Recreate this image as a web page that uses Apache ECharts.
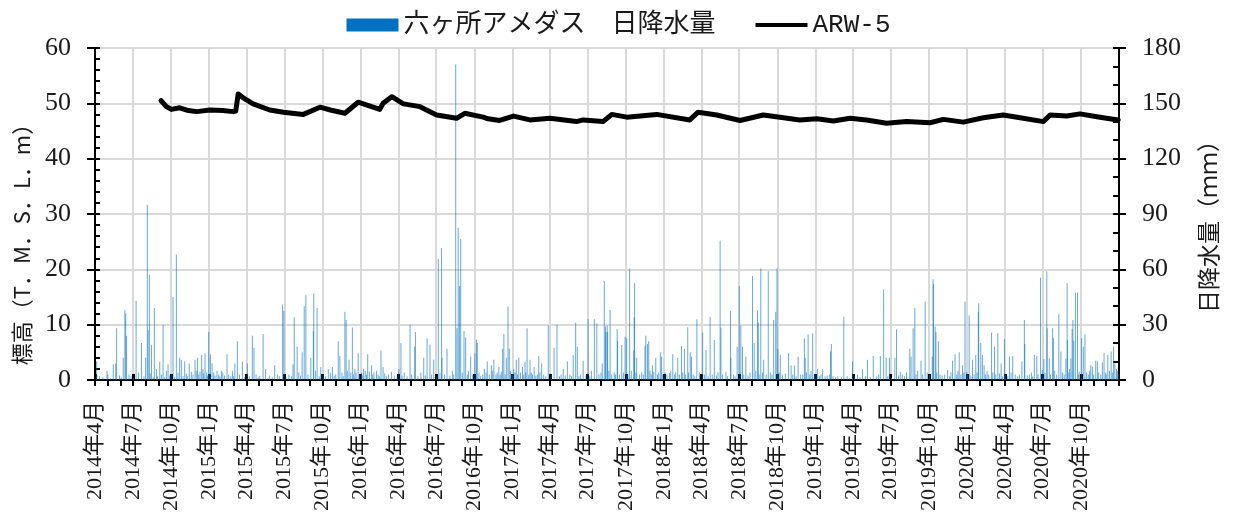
<!DOCTYPE html>
<html>
<head>
<meta charset="utf-8">
<script src="https://cdn.jsdelivr.net/npm/echarts@6/dist/echarts.min.js"></script>
<style>
  html, body { margin: 0; padding: 0; background: #fff; }
  #chart { width: 1237px; height: 515px; }
</style>
</head>
<body>
<div id="chart"></div>
<script>
// 六ヶ所アメダス 日降水量 (mm) — [月-日, 降水量]
const rain2014 = [
  ['04-05',10],['04-12',2],['04-20',1.5],['04-30',5],['05-02',3],['05-08',1],['05-15',8.5],['05-21',9],['05-23',28],['05-30',2.5],
  ['06-03',1.5],['06-08',12],['06-12',38],['06-14',36],['06-16',24],['06-22',3],['06-27',2],['07-03',1],['07-09',43],['07-15',4],
  ['07-22',20],['07-28',2],['08-01',12],['08-05',95],['08-07',27],['08-10',57],['08-12',3.5],['08-15',19],['08-19',1.5],['08-22',39],
  ['08-27',6],['08-30',2],['09-04',10],['09-08',3],['09-12',30],['09-16',1.5],['09-20',5],['09-24',8.5],['09-28',2.5],['10-02',3],
  ['10-06',45],['10-10',1.5],['10-14',68],['10-18',4],['10-22',12],['10-26',11],['10-30',2],['11-03',10],['11-07',3.5],['11-10',2],
  ['11-14',9],['11-19',4.5],['11-23',3],['11-28',11],['12-01',5],['12-04',12],['12-07',3],['12-10',4.5],['12-14',13.5],['12-17',6],
  ['12-19',3.5],['12-22',14.5],['12-26',4],['12-28',2.5],['12-31',26]
];
const rain2015 = [
  ['01-01',3],['01-04',14],['01-08',9],['01-12',4],['01-15',2.5],['01-20',5],['01-24',3],['01-27',2],['01-31',5],['02-03',4],
  ['02-07',2.5],['02-13',14],['02-17',3],['02-22',2],['02-26',5],['03-01',2],['03-04',9],['03-10',21],['03-15',3],['03-22',10],
  ['03-27',1.5],['04-03',9],['04-08',2],['04-15',24],['04-19',17.5],['04-24',3],['04-29',1.5],['05-03',2],['05-11',25],['05-17',6],
  ['05-22',1],['05-27',2.5],['06-02',1.5],['06-08',8],['06-15',3],['06-20',2],['06-27',41],['06-30',37.6],['07-05',1.5],['07-12',3],
  ['07-18',2],['07-22',8.5],['07-25',34],['08-01',18],['08-05',4],['08-09',2.5],['08-13',15],['08-18',40],['08-22',46],['08-27',3],
  ['09-03',12],['09-09',26.5],['09-10',47],['09-14',5],['09-18',39],['09-23',2],['09-27',7],['10-03',3],['10-08',2],['10-15',6],
  ['10-20',4],['10-25',7],['10-29',2.5],['11-02',3],['11-08',21],['11-12',13],['11-17',4],['11-20',2],['11-24',37],['11-27',32.5],
  ['11-30',5],['12-04',11],['12-08',4],['12-12',28.5],['12-15',3],['12-18',6],['12-21',4],['12-26',14.5],['12-29',3]
];
const rain2016 = [
  ['01-03',4],['01-05',2.5],['01-08',6],['01-12',5],['01-15',3],['01-18',14],['01-22',4.5],['01-27',8],['01-30',3],['02-02',4],
  ['02-08',5],['02-12',3],['02-15',2],['02-19',16],['02-24',7],['02-28',3.5],['03-03',2],['03-08',3],['03-15',4.5],['03-22',2.5],
  ['03-29',1.5],['04-02',6],['04-07',20],['04-10',2.5],['04-15',4],['04-22',2],['04-29',30],['05-03',3],['05-10',18],['05-12',26],
  ['05-18',2],['05-25',4],['06-01',12],['06-05',2.5],['06-09',22.5],['06-16',19.3],['06-20',3],['06-25',11],['07-02',2],['07-06',65.6],
  ['07-10',4],['07-14',71.4],['07-15',12],['07-21',3],['07-27',17],['08-03',2.5],['08-09',5],['08-12',3],['08-17',171],['08-20',28],
  ['08-23',82.6],['08-26',51],['08-29',76.4],['09-02',4],['09-06',26.5],['09-10',23],['09-14',3],['09-17',5],['09-22',12.7],['09-27',3],
  ['10-02',14.5],['10-06',22],['10-08',20],['10-12',4],['10-16',2],['10-21',3],['10-25',6],['10-29',4],['11-01',10],['11-06',3],
  ['11-11',8],['11-14',5],['11-17',11],['11-22',3],['11-25',4],['11-29',7],['12-02',3],['12-05',4.5],['12-08',17],['12-11',25],
  ['12-14',3],['12-17',12],['12-21',40],['12-24',17],['12-27',5],['12-30',3]
];
const rain2017 = [
  ['01-01',3],['01-04',6],['01-07',4],['01-10',11],['01-13',3],['01-16',12],['01-20',4],['01-25',7],['01-28',3],['01-31',10],
  ['02-02',4],['02-05',28],['02-09',3],['02-12',11],['02-15',4],['02-18',3],['02-22',7],['02-26',2.5],['03-02',3],['03-05',13],
  ['03-08',4],['03-12',9],['03-17',3],['03-22',2],['03-28',29.5],['04-04',3],['04-11',17.5],['04-18',30],['04-24',2],['04-28',3],
  ['05-03',6],['05-08',2.5],['05-13',10],['05-19',3],['05-23',2],['05-27',13.5],['06-02',31],['06-06',18],['06-10',2],['06-14',3],
  ['06-20',10.5],['06-27',2.5],['07-02',33],['07-06',2],['07-10',5],['07-17',33],['07-23',30.7],['07-28',3],['08-02',4],['08-05',9],
  ['08-10',53.7],['08-13',29],['08-14',26],['08-17',29.5],['08-18',26],['08-21',5],['08-24',38],['08-28',3],['09-03',4],['09-06',3],
  ['09-10',27.5],['09-11',21],['09-16',3],['09-21',19],['09-25',4],['09-29',23.5],['10-03',22.6],['10-06',3],['10-10',60.5],['10-14',5],
  ['10-20',16],['10-21',34],['10-22',52.4],['10-25',4],['10-27',12],['11-03',3],['11-08',4],['11-12',3],['11-16',18.6],['11-18',24],
  ['11-22',19.5],['11-25',21],['11-28',5],['12-01',3],['12-04',8],['12-07',4.5],['12-12',12],['12-16',3],['12-19',4],['12-23',15],
  ['12-26',12.7],['12-29',3]
];
const rain2018 = [
  ['01-03',4],['01-08',3],['01-14',3.6],['01-17',5],['01-22',14],['01-26',3],['01-29',4],['02-03',12],['02-07',3],['02-12',18.4],
  ['02-15',4],['02-19',16.8],['02-22',3],['02-27',28.6],['03-01',4],['03-05',15],['03-08',12.7],['03-12',3],['03-16',2],['03-21',33],
  ['03-27',4],['04-04',25.8],['04-08',3],['04-12',16.3],['04-17',2],['04-22',34.3],['04-27',3],['05-02',21.7],['05-07',2.5],['05-11',4],
  ['05-16',75.5],['05-18',28.4],['05-22',3],['05-30',4.5],['06-03',2],['06-10',37.6],['06-11',12],['06-17',3],['06-21',2],['06-26',18],
  ['07-01',51],['07-05',29.5],['07-09',18],['07-12',3],['07-17',12.7],['07-22',2.5],['07-27',4],['08-02',56.4],['08-06',20],['08-10',5],
  ['08-14',38],['08-16',31],['08-18',3],['08-22',60.5],['08-26',4],['08-29',11],['09-04',3],['09-09',59],['09-14',4],['09-18',3],
  ['09-22',32.5],['09-27',37],['09-30',60.5],['10-02',17],['10-05',4],['10-08',13.5],['10-13',3],['10-20',3.5],['10-28',14.5],['11-03',8],
  ['11-07',3],['11-11',7.8],['11-15',2],['11-20',12.7],['11-26',3],['12-01',3],['12-05',22.6],['12-07',12],['12-10',4],['12-14',24.8],
  ['12-18',3],['12-21',5],['12-25',25.3],['12-29',3]
];
const rain2019 = [
  ['01-02',3],['01-06',6],['01-10',2],['01-14',3],['01-18',6],['01-24',2],['01-29',2.5],['02-03',3],['02-06',15.4],['02-08',19.5],
  ['02-12',2],['02-18',1.5],['02-24',2],['03-04',1.5],['03-10',34.3],['03-18',2],['03-24',1],['03-31',10],['04-05',2],['04-12',3],
  ['04-18',1.5],['04-24',6],['05-01',2],['05-06',11],['05-13',1.5],['05-20',13],['05-28',2],['06-02',3],['06-06',13],['06-14',49],
  ['06-20',12],['06-24',2],['06-28',12],['07-03',1],['07-11',12],['07-15',27.5],['07-20',2.5],['07-24',4.5],['07-29',3],['08-03',2],
  ['08-08',4],['08-16',17],['08-19',12.7],['08-24',28],['08-28',39],['08-31',3],['09-04',5],['09-12',10.5],['09-16',3],['09-22',42.5],
  ['09-27',4],['10-03',3],['10-09',12.7],['10-11',54.6],['10-12',52],['10-16',29],['10-18',26],['10-20',4],['10-24',21],['10-28',3],
  ['11-02',2.5],['11-08',3],['11-15',5.4],['11-20',2],['11-23',4],['11-27',10.5],['12-03',14],['12-07',3],['12-10',5],['12-13',15],
  ['12-17',3],['12-21',8],['12-24',4],['12-27',42.5],['12-31',4.5]
];
const rain2020 = [
  ['01-02',3],['01-06',35],['01-10',2.5],['01-14',11],['01-18',3],['01-22',13.5],['01-25',4],['01-28',37],['01-29',41.6],['02-03',20],
  ['02-07',13.5],['02-11',8],['02-14',3],['02-18',5],['02-22',3],['02-29',25.7],['03-03',4],['03-07',18],['03-10',3],['03-15',25.3],
  ['03-19',3.5],['03-23',9],['03-26',2],['03-31',22.2],['04-03',3],['04-08',2],['04-12',12.7],['04-16',4],['04-20',13],['04-26',3],
  ['05-02',2],['05-06',3],['05-12',10],['05-18',32.5],['05-19',19.5],['05-25',2.5],['05-30',3],['06-04',4],['06-07',2],['06-11',13.5],
  ['06-17',13.2],['06-20',3],['06-26',55.5],['06-30',5.4],['07-04',11.4],['07-07',4],['07-11',59],['07-12',28],['07-17',11.7],['07-20',3],
  ['07-25',28],['07-27',22.6],['07-30',5],['08-04',3],['08-09',35.6],['08-14',15.4],['08-18',4],['08-22',3],['08-26',11.7],['08-29',52.4],
  ['08-30',21.7],['09-02',4],['09-04',6],['09-07',11.7],['09-10',27.6],['09-12',32.5],['09-14',21.3],['09-18',47.5],['09-23',47.5],['09-26',3],
  ['09-27',4.5],['10-03',22.6],['10-07',18],['10-11',24.8],['10-15',4],['10-19',3],['10-22',5],['10-25',8],['10-29',7.2],['11-01',3],
  ['11-06',10.5],['11-10',10],['11-13',4],['11-18',3],['11-22',9.6],['11-26',14.8],['11-30',4],['12-01',3],['12-05',13.5],['12-09',5],
  ['12-13',15.4],['12-16',4],['12-19',18],['12-22',9],['12-26',6],['12-28',5],['12-30',3]
];
const rainYears = [
  [2014, rain2014], [2015, rain2015], [2016, rain2016], [2017, rain2017],
  [2018, rain2018], [2019, rain2019], [2020, rain2020]
];

// ARW-5 地下水位 標高 (T.M.S.L. m)
const arwDates = [
  '2014-09-07','2014-09-20','2014-10-02','2014-10-22','2014-11-12','2014-12-02','2015-01-03','2015-02-03','2015-02-28','2015-03-06',
  '2015-03-12','2015-03-24','2015-04-17','2015-05-27','2015-06-29','2015-08-16','2015-09-25','2015-10-20','2015-11-24','2015-12-26',
  '2016-01-20','2016-02-16','2016-02-24','2016-03-16','2016-04-13','2016-05-23','2016-07-02','2016-08-19','2016-09-08','2016-10-22',
  '2016-11-03','2016-12-01','2017-01-03','2017-02-12','2017-04-01','2017-06-04','2017-06-20','2017-08-07','2017-08-28','2017-10-03',
  '2017-12-14','2018-03-04','2018-03-24','2018-05-08','2018-07-03','2018-08-28','2018-10-07','2018-11-24','2019-01-04','2019-02-13',
  '2019-03-25','2019-05-04','2019-06-21','2019-08-08','2019-10-04','2019-11-05','2019-12-23','2020-02-09','2020-03-28','2020-05-08',
  '2020-07-03','2020-07-19','2020-08-28','2020-09-29','2020-11-16','2020-12-30'
];
const arwLevel = [
  50.5, 49.4, 48.9, 49.2, 48.7, 48.5, 48.8, 48.7, 48.5, 48.6,
  51.7, 51.0, 49.9, 48.8, 48.4, 48.0, 49.3, 48.8, 48.2, 50.2,
  49.6, 48.9, 50.0, 51.2, 49.9, 49.4, 47.9, 47.3, 48.2, 47.5,
  47.2, 46.9, 47.7, 47.0, 47.3, 46.7, 47.0, 46.7, 48.0, 47.5,
  48.0, 47.0, 48.4, 47.9, 46.9, 47.9, 47.5, 47.0, 47.2, 46.8,
  47.3, 47.0, 46.4, 46.7, 46.5, 47.1, 46.6, 47.4, 47.9, 47.4,
  46.7, 47.9, 47.7, 48.1, 47.5, 47.0
];

// 横軸の範囲と目盛り(3か月ごとにラベル、毎月に補助目盛り)
const axisStart = '2014-04-01';
const axisEnd = '2021-01-01';
const quarterTicks = [
  '2014-04-01','2014-07-01','2014-10-01','2015-01-01','2015-04-01','2015-07-01','2015-10-01',
  '2016-01-01','2016-04-01','2016-07-01','2016-10-01','2017-01-01','2017-04-01','2017-07-01','2017-10-01',
  '2018-01-01','2018-04-01','2018-07-01','2018-10-01','2019-01-01','2019-04-01','2019-07-01','2019-10-01',
  '2020-01-01','2020-04-01','2020-07-01','2020-10-01'
];

function ts(s) {
  const [y, m, d] = s.split('-').map(Number);
  return Date.UTC(y, m - 1, d);
}

const monthTicks = [];
for (let y = 2014, m = 4; y < 2021 || (y === 2021 && m === 1); ) {
  monthTicks.push(Date.UTC(y, m - 1, 1));
  m++; if (m > 12) { m = 1; y++; }
}
const quarterTs = quarterTicks.map(ts);

const rainData = [];
rainYears.forEach(([year, list]) => {
  list.forEach(([md, mm]) => rainData.push([ts(year + '-' + md), mm]));
});
const arwData = arwDates.map((d, i) => [ts(d), arwLevel[i]]);

const serifFont = '"Liberation Serif", "Noto Sans CJK JP", serif';
const cjkFont = '"Noto Sans CJK JP", "Liberation Serif", sans-serif';
const textColor = '#1a1a1a';
const gridColor = '#d9d9d9';

function dateLabel(v) {
  const d = new Date(v);
  return d.getUTCFullYear() + '年' + (d.getUTCMonth() + 1) + '月';
}

const chart = echarts.init(document.getElementById('chart'), null, { renderer: 'canvas' });
chart.setOption({
  animation: false,
  backgroundColor: '#fff',
  legend: {
    top: 7,
    left: 'center',
    itemWidth: 52,
    itemHeight: 13,
    itemGap: 40,
    textStyle: { fontSize: 26, color: textColor, fontFamily: '"Liberation Mono", "Noto Sans CJK JP", monospace' },
    data: [
      { name: '六ヶ所アメダス　日降水量', icon: 'rect', itemStyle: { color: '#0070C0', opacity: 1 } },
      { name: 'ARW-5', icon: 'path://M0 0H52V4H0Z', itemStyle: { color: '#000', opacity: 1 } }
    ]
  },
  grid: {
    left: 95, right: 118, top: 48, bottom: 135,
    show: true, borderColor: '#000', borderWidth: 2, backgroundColor: 'transparent'
  },
  xAxis: [
    {
      type: 'value', position: 'bottom', min: ts(axisStart), max: ts(axisEnd),
      axisLine: { show: true, onZero: false, lineStyle: { color: '#000', width: 2 } },
      axisTick: { show: true, customValues: monthTicks, inside: false, length: 6, lineStyle: { color: '#000', width: 2 } },
      axisLabel: { show: false },
      splitLine: { show: false }
    },
    {
      type: 'value', position: 'bottom', min: ts(axisStart), max: ts(axisEnd),
      axisLine: { show: false, onZero: false },
      axisTick: { show: true, customValues: quarterTs, inside: true, length: 6, lineStyle: { color: '#000', width: 3 } },
      axisLabel: {
        customValues: quarterTs, rotate: 90, margin: 21, fontSize: 22, color: textColor, fontFamily: serifFont,
        showMinLabel: true, showMaxLabel: true, formatter: dateLabel
      },
      splitLine: { show: true, lineStyle: { color: gridColor, width: 2 } }
    }
  ],
  yAxis: [
    {
      type: 'value', position: 'left', min: 0, max: 60, interval: 10,
      name: '標高（T．M．S．L．m）', nameLocation: 'middle', nameGap: 62, nameRotate: 90,
      nameTextStyle: { fontSize: 22, color: textColor, fontFamily: cjkFont, padding: [0, 50, 0, 0] },
      axisLine: { show: true, onZero: false, lineStyle: { color: '#000', width: 2 } },
      axisTick: { show: true, inside: false, length: 8, lineStyle: { color: '#000', width: 2 } },
      axisLabel: { margin: 24, fontSize: 26, color: textColor, fontFamily: serifFont },
      splitLine: { show: true, lineStyle: { color: gridColor, width: 2 } }
    },
    {
      type: 'value', position: 'left', min: 0, max: 60, interval: 10,
      axisLine: { show: false },
      axisTick: { show: true, inside: true, length: 5, lineStyle: { color: '#000', width: 2 } },
      minorTick: { show: true, splitNumber: 5, length: 5, lineStyle: { color: '#000', width: 2 } },
      axisLabel: { show: false },
      splitLine: { show: false }
    },
    {
      type: 'value', position: 'right', min: 0, max: 180, interval: 30,
      name: '日降水量（ｍｍ）', nameLocation: 'middle', nameGap: 78, nameRotate: 90,
      nameTextStyle: { fontSize: 23, color: textColor, fontFamily: cjkFont, padding: [0, 14, 0, 0] },
      axisLine: { show: true, onZero: false, lineStyle: { color: '#000', width: 2 } },
      axisTick: { show: true, inside: false, length: 7, lineStyle: { color: '#000', width: 2 } },
      axisLabel: { margin: 23, fontSize: 26, color: textColor, fontFamily: serifFont },
      splitLine: { show: false }
    },
    {
      type: 'value', position: 'right', min: 0, max: 180, interval: 30,
      axisLine: { show: false },
      axisTick: { show: true, inside: true, length: 6, lineStyle: { color: '#000', width: 2 } },
      minorTick: { show: true, splitNumber: 3, length: 6, lineStyle: { color: '#000', width: 2 } },
      axisLabel: { show: false },
      splitLine: { show: false }
    }
  ],
  series: [
    {
      name: '六ヶ所アメダス　日降水量', type: 'bar', xAxisIndex: 0, yAxisIndex: 2,
      data: rainData, barWidth: 0.5, barGap: '-100%',
      itemStyle: { color: '#0070C0', opacity: 0.6 }, z: 2
    },
    {
      name: 'ARW-5', type: 'line', xAxisIndex: 0, yAxisIndex: 0,
      data: arwData, symbol: 'none', smooth: false,
      itemStyle: { color: '#000' },
      lineStyle: { color: '#000', width: 5, join: 'round', cap: 'round' }, z: 3
    }
  ]
});
</script>
</body>
</html>
